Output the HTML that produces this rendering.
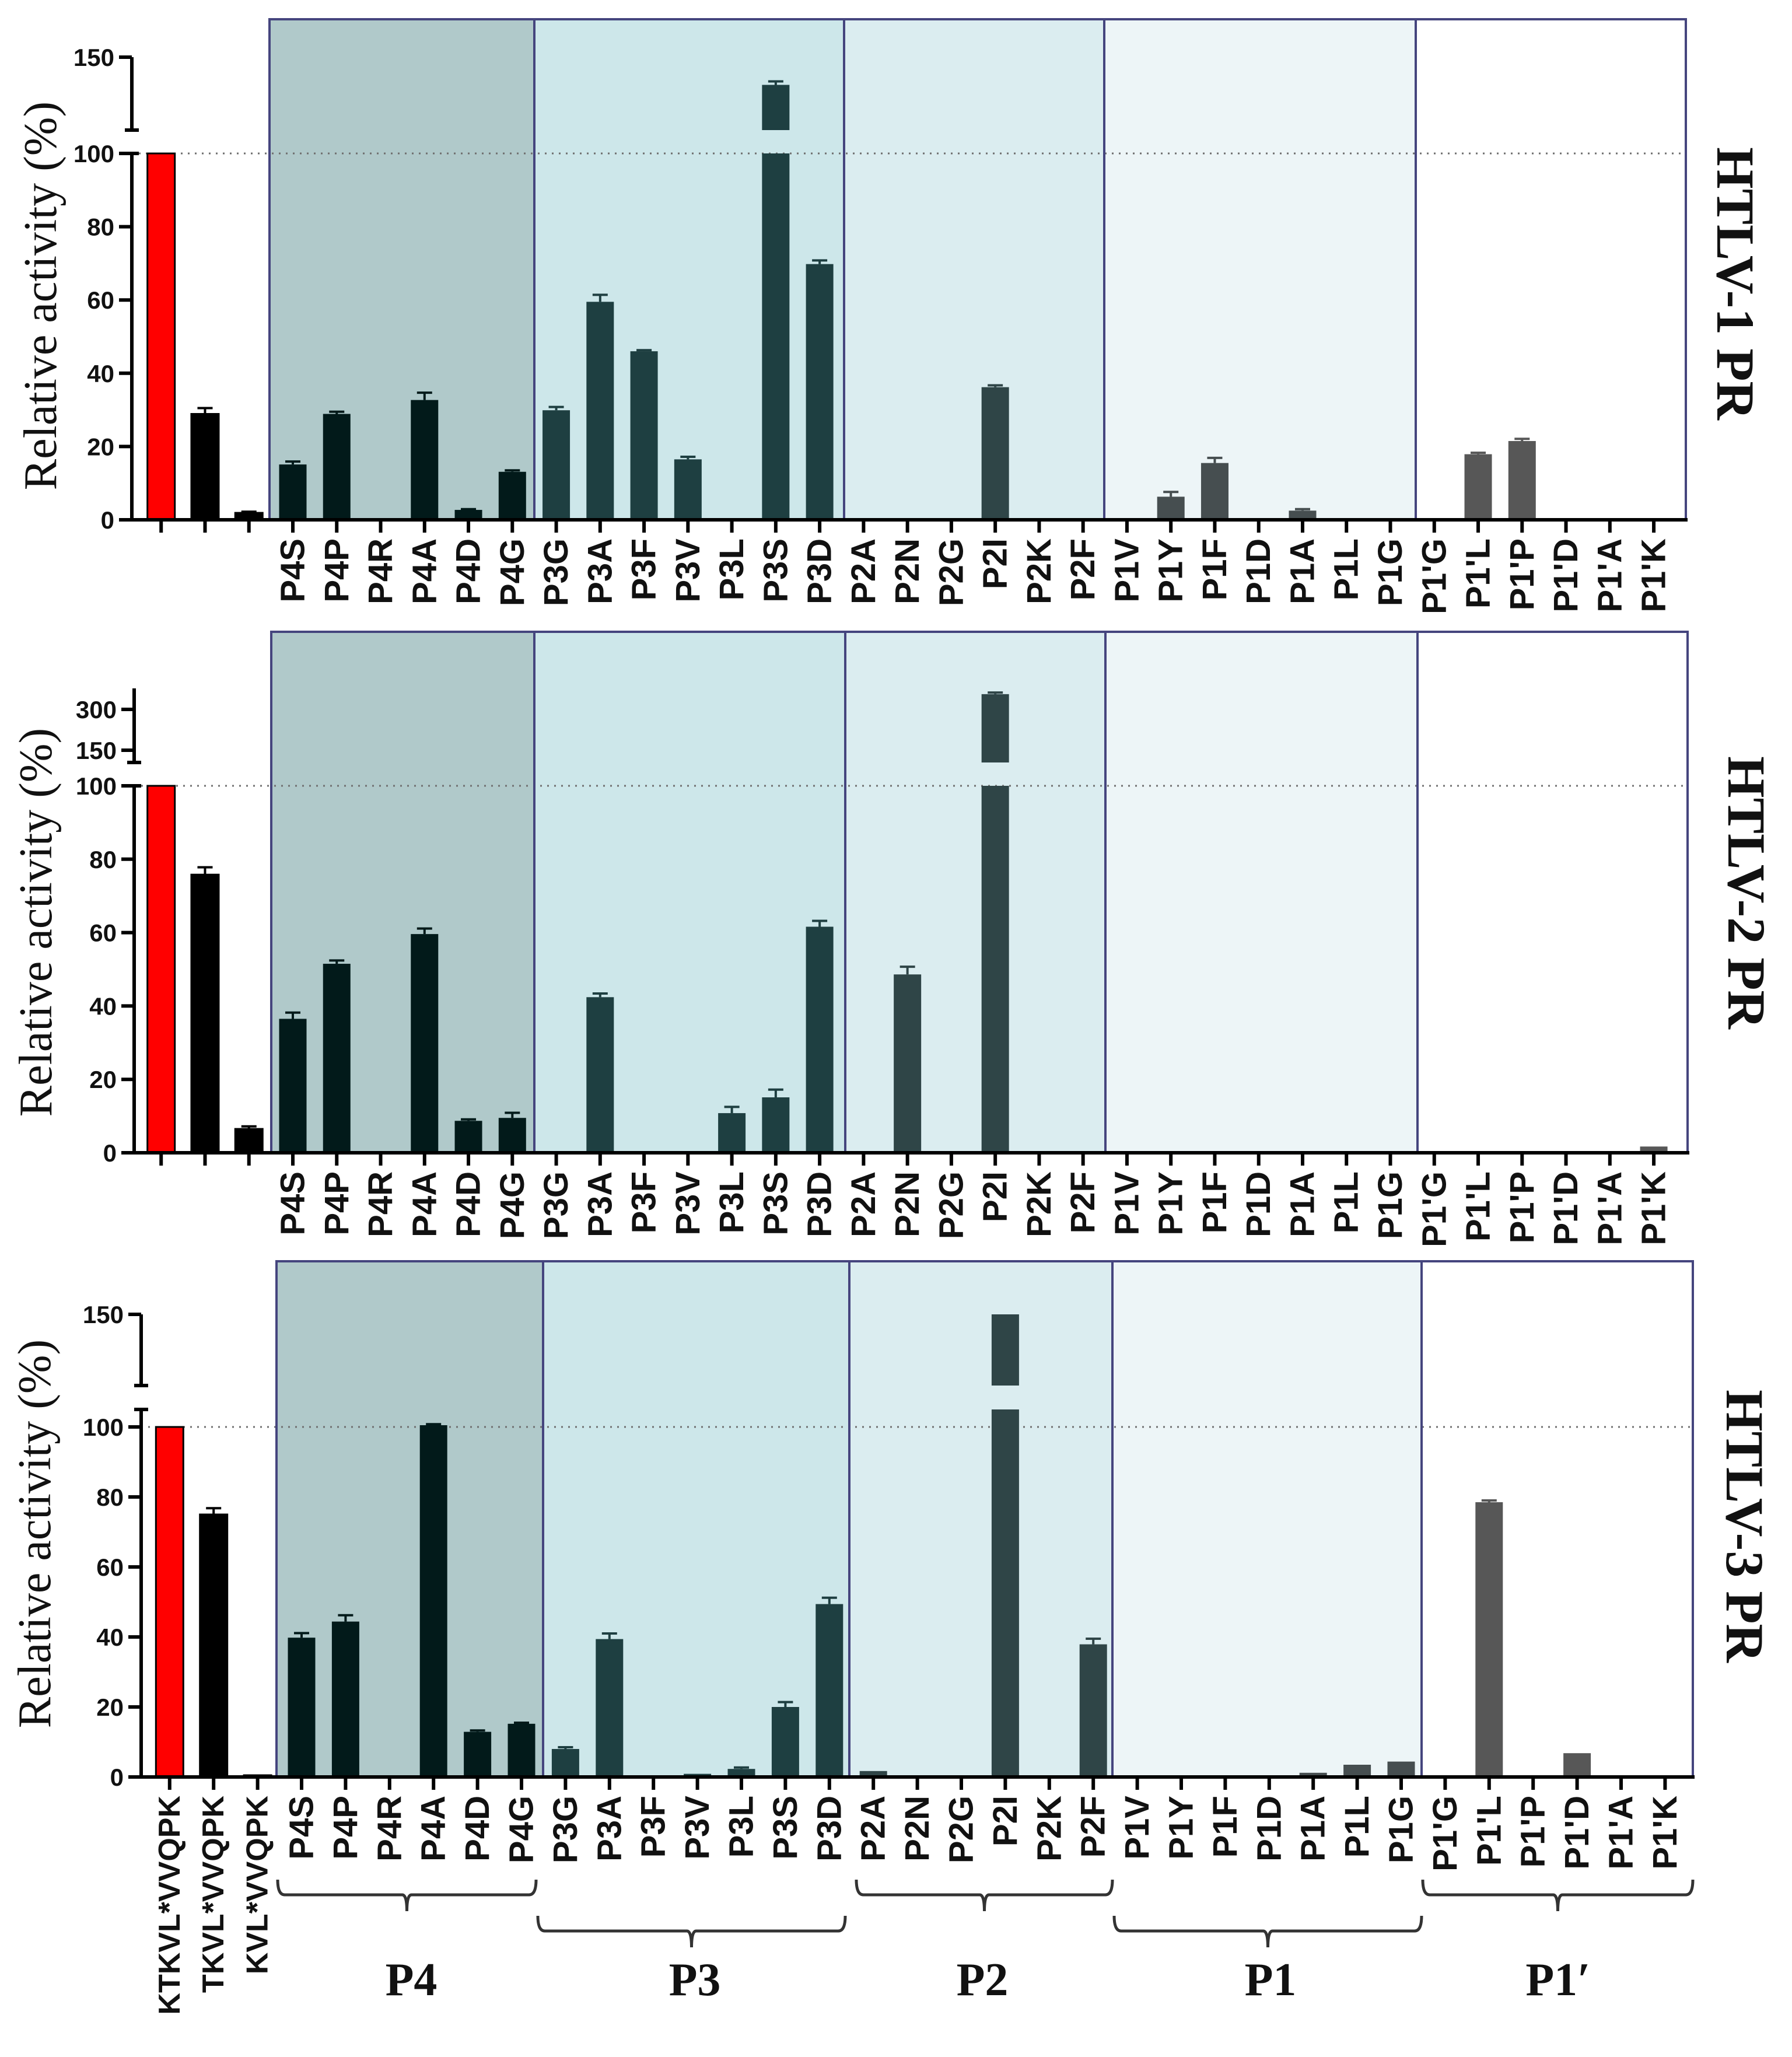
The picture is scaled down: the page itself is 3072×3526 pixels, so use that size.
<!DOCTYPE html>
<html><head><meta charset="utf-8"><style>
html,body{margin:0;padding:0;background:#fff;}
svg{display:block;}
</style></head><body>
<svg id="chart" xmlns="http://www.w3.org/2000/svg" width="3072" height="3526" viewBox="0 0 3072 3526"></svg>
<script>
const categories = ["KTKVL*VVQPK","TKVL*VVQPK","KVL*VVQPK","P4S","P4P","P4R","P4A","P4D","P4G","P3G","P3A","P3F","P3V","P3L","P3S","P3D","P2A","P2N","P2G","P2I","P2K","P2F","P1V","P1Y","P1F","P1D","P1A","P1L","P1G","P1'G","P1'L","P1'P","P1'D","P1'A","P1'K"];
const regionNames = ["P4","P3","P2","P1","P1\u2032"];
const htlv1Values = [100,28.9,1.9, 15.1,28.9,0,32.7,2.7,13.1, 29.9,59.5,46.0,16.5,0,131,69.8, 0,0,0,36.2,0,0, 0,6.3,15.5,0,2.5,0,0, 0,17.9,21.5,0,0,0];
const htlv1Errors = [0,30.5,2.2, 15.9,29.5,0,34.7,2.9,13.5, 30.8,61.4,46.3,17.2,0,133.4,70.8, 0,0,0,36.7,0,0, 0,7.6,16.9,0,2.9,0,0, 0,18.3,22.1,0,0,0];
const htlv2Values = [100,75.8,6.5, 36.5,51.5,0,59.6,8.7,9.5, 0,42.4,0,0,10.8,15.1,61.6, 0,48.6,0,356,0,0, 0,0,0,0,0,0,0, 0,0,0,0,0,1.7];
const htlv2Errors = [0,77.8,7.2, 38.2,52.4,0,61.1,9.1,10.9, 0,43.4,0,0,12.5,17.2,63.2, 0,50.7,0,362,0,0, 0,0,0,0,0,0,0, 0,0,0,0,0,0];
const htlv3Values = [100,75.0,0.5, 39.8,44.4,0,100.5,12.9,15.2, 8.0,39.4,0,0.9,2.3,20.0,49.4, 1.7,0,0,150,0,37.9, 0,0,0,0,1.2,3.5,4.4, 0,78.5,0,6.8,0,0];
const htlv3Errors = [0,76.8,0, 41.1,46.2,0,100.8,13.3,15.5, 8.5,41.0,0,0,2.7,21.4,51.2, 0,0,0,0,0,39.5, 0,0,0,0,0,0,0, 0,79.0,0,0,0,0];
const lowerTicks = [0,20,40,60,80,100];
const upperTicks1 = [150];
const upperTicks2 = [150,300];
const upperTicks3 = [150];

const NS = "http://www.w3.org/2000/svg";
const svg = document.getElementById("chart");
function mk(tag, attrs, parent){
  const e = document.createElementNS(NS, tag);
  for (const k in attrs) e.setAttribute(k, attrs[k]);
  (parent||svg).appendChild(e);
  return e;
}
const regionFill = ["#b0c9ca","#cde7ea","#dbedf0","#edf5f7","#ffffff"];
const regionBar = ["#021a1a","#1e3f41","#2f4547","#464e50","#575757"];
function regionOf(i){ if(i<3) return -1; if(i<9) return 0; if(i<16) return 1; if(i<22) return 2; if(i<29) return 3; return 4; }

const panels = [
 {name:"htlv-1", title:"HTLV-1 PR", values:htlv1Values, errors:htlv1Errors, upperTicks:upperTicks1,
  axisX:226, c0:502, step:75.26, boxL:462, boxR:2890, borders:[916,1447,1893,2427], boxTop:33,
  y0:891, y100:263, lowMax:100, lowCap:263,
  up:{vA:150,pA:98,vB:100,pB:223}, upTop:98, upBot:223,
  titleX:2975, titleY:486, ytX:70, ytY:507, ctrlLabels:false},
 {name:"htlv-2", title:"HTLV-2 PR", values:htlv2Values, errors:htlv2Errors, upperTicks:upperTicks2,
  axisX:230, c0:502, step:75.26, boxL:465, boxR:2893, borders:[916,1449,1895,2430], boxTop:1083,
  y0:1976, y100:1347, lowMax:100, lowCap:1347,
  up:{vA:300,pA:1216,vB:150,pB:1286}, upTop:1180, upBot:1307,
  titleX:2994, titleY:1530, ytX:62, ytY:1581, ctrlLabels:false},
 {name:"htlv-3", title:"HTLV-3 PR", values:htlv3Values, errors:htlv3Errors, upperTicks:upperTicks3,
  axisX:242, c0:517, step:75.4, boxL:474, boxR:2902, borders:[931,1456,1907,2437], boxTop:2162,
  y0:3046, y100:2446, lowMax:105, lowCap:2416,
  up:{vA:150,pA:2253,vB:110,pB:2375}, upTop:2253, upBot:2375,
  titleX:2991, titleY:2616, ytX:60, ytY:2629, ctrlLabels:true}
];

panels.forEach((P)=>{
  const g = mk("g",{});
  
  
  const xC = i => P.c0 + (i-3)*P.step;
  const yLow = v => P.y0 - (Math.min(v,P.lowMax))*(P.y0-P.y100)/100;
  const yUp = v => P.up.pB - (v-P.up.vB)*(P.up.pB-P.up.pA)/(P.up.vA-P.up.vB);
  const yVal = v => v<=P.lowMax ? yLow(v) : yUp(v);
  const edges = [P.boxL].concat(P.borders).concat([P.boxR]);
  for(let r=0;r<5;r++){
    const rc = mk("rect",{x:edges[r],y:P.boxTop,width:edges[r+1]-edges[r],height:P.y0-P.boxTop,fill:regionFill[r]},g);
    
    
  }
  const ref = mk("line",{x1:P.axisX,x2:P.boxR,y1:P.y100,y2:P.y100,stroke:"#6f6f6f","stroke-width":3,"stroke-dasharray":"3 9"},g);
  
  
  P.values.forEach((v,i)=>{
    const r = regionOf(i);
    const color = r<0 ? (i===0 ? "#ff0000" : "#000000") : regionBar[r];
    const w = 47, x = xC(i)-w/2;
    if(v<=0) return;
    const bg = mk("g",{},g);
    
    
    const stroke = i<3 ? {stroke:"#000","stroke-width":3} : {};
    if(v<=P.lowMax){
      const yt = yLow(v);
      mk("rect",Object.assign({x:x,y:yt,width:w,height:P.y0-yt,fill:color},stroke),bg);
    } else {
      mk("rect",Object.assign({x:x,y:P.lowCap,width:w,height:P.y0-P.lowCap,fill:color},stroke),bg);
      const yt = yUp(v);
      mk("rect",{x:x,y:yt,width:w,height:P.upBot-yt,fill:color},bg);
    }
    const e = P.errors[i];
    if(e>v){
      const yt = yVal(v), ye = yVal(e);
      mk("line",{x1:xC(i),x2:xC(i),y1:yt,y2:ye,stroke:color,"stroke-width":4},bg);
      mk("line",{x1:xC(i)-13,x2:xC(i)+13,y1:ye,y2:ye,stroke:color,"stroke-width":4},bg);
    }
  });
  const box = mk("rect",{x:P.boxL,y:P.boxTop,width:P.boxR-P.boxL,height:P.y0-P.boxTop,fill:"none",stroke:"#45457e","stroke-width":4},g);
  
  
  P.borders.forEach(bx=>{
    const bl = mk("line",{x1:bx,x2:bx,y1:P.boxTop,y2:P.y0,stroke:"#45457e","stroke-width":4},g);
    
    
  });
  const ya = mk("g",{},g);
  
  
  mk("line",{x1:P.axisX,x2:P.axisX,y1:P.y0,y2:P.lowCap,stroke:"#000","stroke-width":6},ya);
  mk("line",{x1:P.axisX-12,x2:P.axisX+12,y1:P.lowCap,y2:P.lowCap,stroke:"#000","stroke-width":6},ya);
  mk("line",{x1:P.axisX,x2:P.axisX,y1:P.upTop,y2:P.upBot,stroke:"#000","stroke-width":6},ya);
  mk("line",{x1:P.axisX-12,x2:P.axisX+12,y1:P.upBot,y2:P.upBot,stroke:"#000","stroke-width":6},ya);
  lowerTicks.forEach(t=>{
    const y = yLow(t);
    mk("line",{x1:P.axisX-22,x2:P.axisX,y1:y,y2:y,stroke:"#000","stroke-width":6},ya);
    const tx = mk("text",{x:P.axisX-30,y:y+15,"text-anchor":"end","font-family":"Liberation Sans, Arial, sans-serif","font-weight":"bold","font-size":42,fill:"#111"},ya);
    tx.textContent = t;
  });
  P.upperTicks.forEach(t=>{
    const y = yUp(t);
    mk("line",{x1:P.axisX-22,x2:P.axisX,y1:y,y2:y,stroke:"#000","stroke-width":6},ya);
    const tx = mk("text",{x:P.axisX-30,y:y+15,"text-anchor":"end","font-family":"Liberation Sans, Arial, sans-serif","font-weight":"bold","font-size":42,fill:"#111"},ya);
    tx.textContent = t;
  });
  const yt = mk("text",{x:P.ytX,y:P.ytY,transform:"rotate(-90 "+P.ytX+" "+P.ytY+")","text-anchor":"middle","dominant-baseline":"central","font-family":"Liberation Serif, Times New Roman, serif","font-size":80,fill:"#111"},g);
  
  
  yt.textContent = "Relative activity (%)";
  const xa = mk("g",{},g);
  
  
  mk("line",{x1:P.axisX-22,x2:P.boxR+3,y1:P.y0,y2:P.y0,stroke:"#000","stroke-width":6},xa);
  categories.forEach((c,i)=>{
    const x = xC(i);
    mk("line",{x1:x,x2:x,y1:P.y0,y2:P.y0+22,stroke:"#000","stroke-width":6},xa);
    if(i<3 && !P.ctrlLabels) return;
    const ty = P.y0+32;
    const tx = mk("text",{x:x,y:ty,transform:"rotate(-90 "+x+" "+ty+")","text-anchor":"end","dominant-baseline":"central","font-family":"Liberation Sans, Arial, sans-serif","font-weight":"bold","font-size":i<3?52:58,fill:"#111"},xa);
    
    
    tx.textContent = c;
  });
  const tt = mk("text",{x:P.titleX,y:P.titleY,transform:"rotate(90 "+P.titleX+" "+P.titleY+")","text-anchor":"middle","dominant-baseline":"central","font-family":"Liberation Serif, Times New Roman, serif","font-weight":"bold","font-size":92,fill:"#111"},g);
  
  
  tt.textContent = P.title;
});

const brackets = [
  {x1:476,x2:919,row:0,lx:705},
  {x1:922,x2:1449,row:1,lx:1191},
  {x1:1468,x2:1907,row:0,lx:1684},
  {x1:1910,x2:2437,row:1,lx:2178},
  {x1:2439,x2:2902,row:0,lx:2671}
];
brackets.forEach((b,k)=>{
  const top = b.row===0 ? 3222 : 3284;
  const hy = b.row===0 ? 3248 : 3310;
  const mid = (b.x1+b.x2)/2;
  const bg = mk("g",{});
  
  
  mk("path",{d:"M"+b.x1+" "+top+" Q"+b.x1+" "+hy+" "+(b.x1+12)+" "+hy+" L"+(mid-8)+" "+hy+" Q"+mid+" "+hy+" "+mid+" "+(hy+28)+" M"+mid+" "+(hy+28)+" Q"+mid+" "+hy+" "+(mid+8)+" "+hy+" L"+(b.x2-12)+" "+hy+" Q"+b.x2+" "+hy+" "+b.x2+" "+top,fill:"none",stroke:"#333","stroke-width":5},bg);
  const t = mk("text",{x:b.lx,y:3420,"text-anchor":"middle","font-family":"Liberation Serif, Times New Roman, serif","font-weight":"bold","font-size":80,fill:"#111"},bg);
  t.textContent = regionNames[k];
});
</script>
</body></html>
